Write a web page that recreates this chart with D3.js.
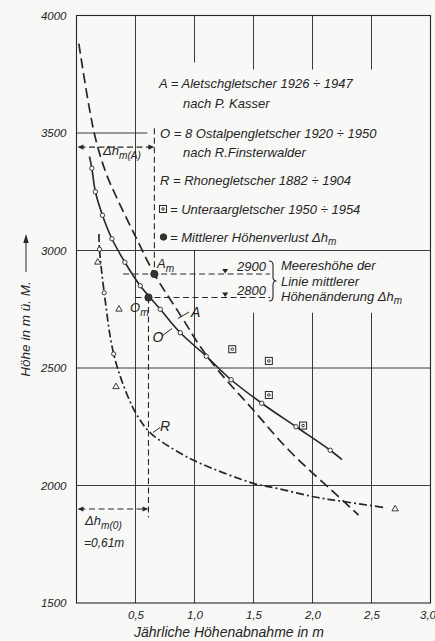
<!DOCTYPE html>
<html><head><meta charset="utf-8">
<script src="https://cdn.jsdelivr.net/npm/d3@7"></script>
<style>
body{margin:0;background:#f8f8f6}
svg{display:block}
text{font-family:"Liberation Sans",Arial,sans-serif;font-style:italic;fill:#252525}
</style>
</head><body>
<svg id="c" width="435" height="641"></svg>
<script>
// ---------- data ----------
const yTicks = [1500, 2000, 2500, 3000, 3500, 4000];
const xTicks = [0.5, 1.0, 1.5, 2.0, 2.5, 3.0];

// O = 8 Ostalpengletscher (solid, open circles)
const oPointX = [0.13, 0.16, 0.22, 0.30, 0.41, 0.54, 0.71, 0.88, 1.10, 1.31, 1.57, 1.86, 2.15];
const oPointH = [3350, 3250, 3150, 3050, 2950, 2850, 2750, 2650, 2550, 2450, 2350, 2250, 2150];
const oLineX = [0.11, 0.13, 0.16, 0.22, 0.30, 0.41, 0.54, 0.71, 0.88, 1.10, 1.31, 1.57, 1.86, 2.15, 2.25];
const oLineH = [3400, 3350, 3250, 3150, 3050, 2950, 2850, 2750, 2650, 2550, 2450, 2350, 2250, 2150, 2110];

// A = Aletschgletscher (dashed)
const aLineX = [0.02, 0.15, 0.25, 0.35, 0.49, 0.66, 0.90, 1.05, 1.20, 1.50, 1.80, 2.27, 2.39];
const aLineH = [3880, 3500, 3330, 3215, 3070, 2900, 2710, 2590, 2490, 2320, 2150, 1930, 1874];

// R = Rhonegletscher (dash-dot)
const rLineX = [0.19, 0.195, 0.235, 0.315, 0.43, 0.52, 0.63, 0.88, 1.05, 1.50, 1.70, 2.01, 2.27, 2.60];
const rLineH = [3070, 3005, 2820, 2560, 2385, 2293, 2222, 2137, 2094, 2009, 1988, 1952, 1931, 1907];
const rCircleX = [0.195, 0.235, 0.315];
const rCircleH = [3005, 2820, 2560];
const rTriX = [0.18, 0.36, 0.335, 2.70];
const rTriH = [2950, 2750, 2420, 1900];

// Unteraargletscher (squares)
const uX = [1.32, 1.63, 1.63, 1.92];
const uH = [2580, 2530, 2385, 2255];

// mittlerer Höhenverlust
const meanNames = ["A", "O"];
const meanX = [0.66, 0.61];
const meanH = [2900, 2800];

// ---------- scales ----------
const svg = d3.select("#c");
const ink = "#262626";
const x = d3.scaleLinear().domain([0, 3]).range([76.5, 430.5]);
const y = d3.scaleLinear().domain([1500, 4000]).range([603, 15.5]);
const zip = (a, b) => a.map((v, i) => [v, b[i]]);
const line = d3.line().x(d => x(d[0])).y(d => y(d[1])).curve(d3.curveCatmullRom.alpha(0.5));

// ---------- grid ----------
const g = svg.append("g").attr("stroke", ink).attr("stroke-width", 0.9).attr("fill", "none");
const vGrid = [
  [0.5, [[1500, 4000]]],
  [1.0, [[1500, 3000], [3800, 4000]]],
  [1.5, [[1500, 2735], [3770, 4000]]],
  [2.0, [[1500, 2735], [3770, 4000]]],
  [2.5, [[1500, 2735], [3770, 4000]]]
];
vGrid.forEach(([v, segs]) => segs.forEach(s =>
  g.append("line").attr("x1", x(v)).attr("x2", x(v)).attr("y1", y(s[0])).attr("y2", y(s[1]))));
const hGrid = [[2000, [0, 3]], [2500, [0, 3]], [3000, [0, 3]], [3500, [0, 0.6]]];
hGrid.forEach(([h, s]) =>
  g.append("line").attr("x1", x(s[0])).attr("x2", x(s[1])).attr("y1", y(h)).attr("y2", y(h)));
// frame
g.append("rect").attr("x", x(0)).attr("y", y(4000)).attr("width", x(3) - x(0)).attr("height", y(1500) - y(4000))
  .attr("stroke-width", 1.1);

// ---------- axes ----------
const yAxis = svg.append("g").attr("transform", `translate(${x(0)},0)`)
  .call(d3.axisLeft(y).tickValues(yTicks).tickSize(0).tickPadding(10).tickFormat(d3.format("d")));
yAxis.select(".domain").remove();
yAxis.selectAll("text").attr("font-size", 11.5).attr("font-family", "Liberation Sans, Arial, sans-serif").attr("font-style", "italic").attr("fill", ink);

const xAxis = svg.append("g").attr("transform", `translate(0,${y(1500)})`)
  .call(d3.axisBottom(x).tickValues(xTicks).tickSize(0).tickPadding(8).tickFormat(d => d.toFixed(1).replace(".", ",")));
xAxis.select(".domain").remove();
xAxis.selectAll("text").attr("font-size", 11.5).attr("font-family", "Liberation Sans, Arial, sans-serif").attr("font-style", "italic").attr("fill", ink)
  .attr("dx", d => d === 3 ? -3 : 0);

// axis titles
svg.append("text").attr("x", 229).attr("y", 637).attr("text-anchor", "middle").attr("font-size", 14)
  .text("Jährliche Höhenabnahme in m");
svg.append("text").attr("transform", "translate(30,329) rotate(-90)").attr("text-anchor", "middle").attr("font-size", 13.5)
  .text("Höhe in m ü. M.");
svg.append("line").attr("x1", 26).attr("x2", 26).attr("y1", 272).attr("y2", 237).attr("stroke", ink).attr("stroke-width", 1);
svg.append("path").attr("d", "M26,234 L23.3,243 L28.7,243 Z").attr("fill", ink);

// ---------- guide lines (mean heights) ----------
const gd = svg.append("g").attr("stroke", ink).attr("stroke-width", 1.1).attr("fill", "none").attr("stroke-dasharray", "6,3.5");
// Δh_m(A)
gd.append("line").attr("x1", x(meanX[0])).attr("x2", x(meanX[0])).attr("y1", y(3520)).attr("y2", y(meanH[0]));
gd.append("line").attr("x1", x(0) + 3).attr("x2", x(meanX[0]) - 3).attr("y1", y(3440)).attr("y2", y(3440));
// Δh_m(O)
gd.append("line").attr("x1", x(meanX[1])).attr("x2", x(meanX[1])).attr("y1", y(meanH[1])).attr("y2", y(1865));
gd.append("line").attr("x1", x(0) + 3).attr("x2", x(meanX[1]) - 3).attr("y1", y(1900)).attr("y2", y(1900));
// horizontal 2900 / 2800
gd.append("line").attr("x1", x(0.395)).attr("x2", x(1.64)).attr("y1", y(meanH[0])).attr("y2", y(meanH[0]));
gd.append("line").attr("x1", x(0.5)).attr("x2", x(1.64)).attr("y1", y(meanH[1])).attr("y2", y(meanH[1]));

// arrowheads
function arrowHead(px, py, dir) {
  svg.append("path").attr("d", `M${px},${py} l${-dir * 6},-2.6 l0,5.2 Z`).attr("fill", ink);
}
arrowHead(x(0) + 1, y(3440), -1); arrowHead(x(meanX[0]), y(3440), 1);
arrowHead(x(0) + 1, y(1900), -1); arrowHead(x(meanX[1]), y(1900), 1);

// sea level marks
[meanH[0], meanH[1]].forEach(h => {
  const px = x(1.26), py = y(h);
  svg.append("path").attr("d", `M${px - 3},${py - 5} L${px + 3},${py - 5} L${px},${py - 0.5} Z`).attr("fill", ink);
});
svg.append("text").attr("x", 237).attr("y", y(2900) - 3).attr("font-size", 13).text("2900");
svg.append("text").attr("x", 237).attr("y", y(2800) - 3).attr("font-size", 13).text("2800");
svg.append("path").attr("d", "M269,261 q4,0 4,4 v12 q0,4 3.5,4 q-3.5,0 -3.5,4 v12 q0,4 -4,4")
  .attr("fill", "none").attr("stroke", ink).attr("stroke-width", 1.1);
svg.append("text").attr("x", 281).attr("y", 270).attr("font-size", 13).text("Meereshöhe der");
svg.append("text").attr("x", 281).attr("y", 285.5).attr("font-size", 13).text("Linie mittlerer");
const t3 = svg.append("text").attr("x", 281).attr("y", 301).attr("font-size", 13);
t3.append("tspan").text("Höhenänderung Δh");
t3.append("tspan").attr("font-size", 10).attr("dy", 3).text("m");

// ---------- curves ----------
svg.append("path").attr("d", line(zip(aLineX, aLineH))).attr("fill", "none").attr("stroke", ink)
  .attr("stroke-width", 1.7).attr("stroke-dasharray", "10,5");
svg.append("path").attr("d", line(zip(rLineX, rLineH))).attr("fill", "none").attr("stroke", ink)
  .attr("stroke-width", 1.7).attr("stroke-dasharray", "8,3,2,3");
svg.append("path").attr("d", line(zip(oLineX, oLineH))).attr("fill", "none").attr("stroke", ink)
  .attr("stroke-width", 1.6);

// markers
svg.append("g").selectAll("circle").data(zip(oPointX, oPointH)).join("circle")
  .attr("cx", d => x(d[0])).attr("cy", d => y(d[1])).attr("r", 2.2)
  .attr("fill", "#f8f8f6").attr("stroke", ink).attr("stroke-width", 0.9);
svg.append("g").selectAll("circle").data(zip(rCircleX, rCircleH)).join("circle")
  .attr("cx", d => x(d[0])).attr("cy", d => y(d[1])).attr("r", 2.1)
  .attr("fill", "#f8f8f6").attr("stroke", ink).attr("stroke-width", 0.9);
const tri = d3.symbol().type(d3.symbolTriangle).size(18);
svg.append("g").selectAll("path").data(zip(rTriX, rTriH)).join("path")
  .attr("transform", d => `translate(${x(d[0])},${y(d[1])})`).attr("d", tri)
  .attr("fill", "#f8f8f6").attr("stroke", ink).attr("stroke-width", 0.9);
function sq(gs, px, py) {
  gs.append("rect").attr("x", px - 3.5).attr("y", py - 3.5).attr("width", 7).attr("height", 7)
    .attr("fill", "#f8f8f6").attr("stroke", ink).attr("stroke-width", 1);
  gs.append("circle").attr("cx", px).attr("cy", py).attr("r", 1.3).attr("fill", "none").attr("stroke", ink).attr("stroke-width", 0.9);
}
const ug = svg.append("g");
zip(uX, uH).forEach(d => sq(ug, x(d[0]), y(d[1])));
svg.append("g").selectAll("circle").data(zip(meanX, meanH)).join("circle")
  .attr("cx", d => x(d[0])).attr("cy", d => y(d[1])).attr("r", 3.6).attr("fill", "#333").attr("stroke", ink);

// curve labels
function sub(xp, yp, main, s, fs) {
  const t = svg.append("text").attr("x", xp).attr("y", yp).attr("font-size", fs);
  t.append("tspan").text(main);
  t.append("tspan").attr("font-size", fs * 0.78).attr("dy", 3.5).text(s);
  return t;
}
sub(157, 268, "A", "m", 13);
sub(130, 312, "O", "m", 13);
svg.append("text").attr("x", 191).attr("y", 317).attr("font-size", 14).text("A");
svg.append("line").attr("x1", 178).attr("y1", 318.5).attr("x2", 189).attr("y2", 312).attr("stroke", ink).attr("stroke-width", 1);
svg.append("text").attr("x", 152.5).attr("y", 342).attr("font-size", 14).text("O");
svg.append("line").attr("x1", 162).attr("y1", 336).attr("x2", 172).attr("y2", 328.5).attr("stroke", ink).attr("stroke-width", 1);
svg.append("text").attr("x", 160).attr("y", 431).attr("font-size", 14).text("R");
svg.append("line").attr("x1", 153).attr("y1", 432.5).attr("x2", 160).attr("y2", 427.5).attr("stroke", ink).attr("stroke-width", 1);

// Δh labels
sub(103, 155, "Δh", "m(A)", 13);
sub(85, 525, "Δh", "m(0)", 13);
svg.append("text").attr("x", 84).attr("y", 547).attr("font-size", 12).text("=0,61m");

// ---------- legend ----------
const L = [
  [159, 88, "A = Aletschgletscher  1926 ÷ 1947"],
  [183, 108, "nach P. Kasser"],
  [160, 138, "O = 8 Ostalpengletscher  1920 ÷ 1950"],
  [183, 157, "nach R.Finsterwalder"],
  [160, 185, "R = Rhonegletscher  1882 ÷ 1904"],
  [170, 214, "= Unteraargletscher  1950 ÷ 1954"]
];
L.forEach(([xp, yp, t]) => svg.append("text").attr("x", xp).attr("y", yp).attr("font-size", 13).text(t));
sq(svg.append("g"), 163, 209);
svg.append("circle").attr("cx", 163.5).attr("cy", 237).attr("r", 3.2).attr("fill", "#333").attr("stroke", ink);
const lt = svg.append("text").attr("x", 170).attr("y", 242).attr("font-size", 13);
lt.append("tspan").text("= Mittlerer Höhenverlust  Δh");
lt.append("tspan").attr("font-size", 10).attr("dy", 3).text("m");
</script>
</body></html>
